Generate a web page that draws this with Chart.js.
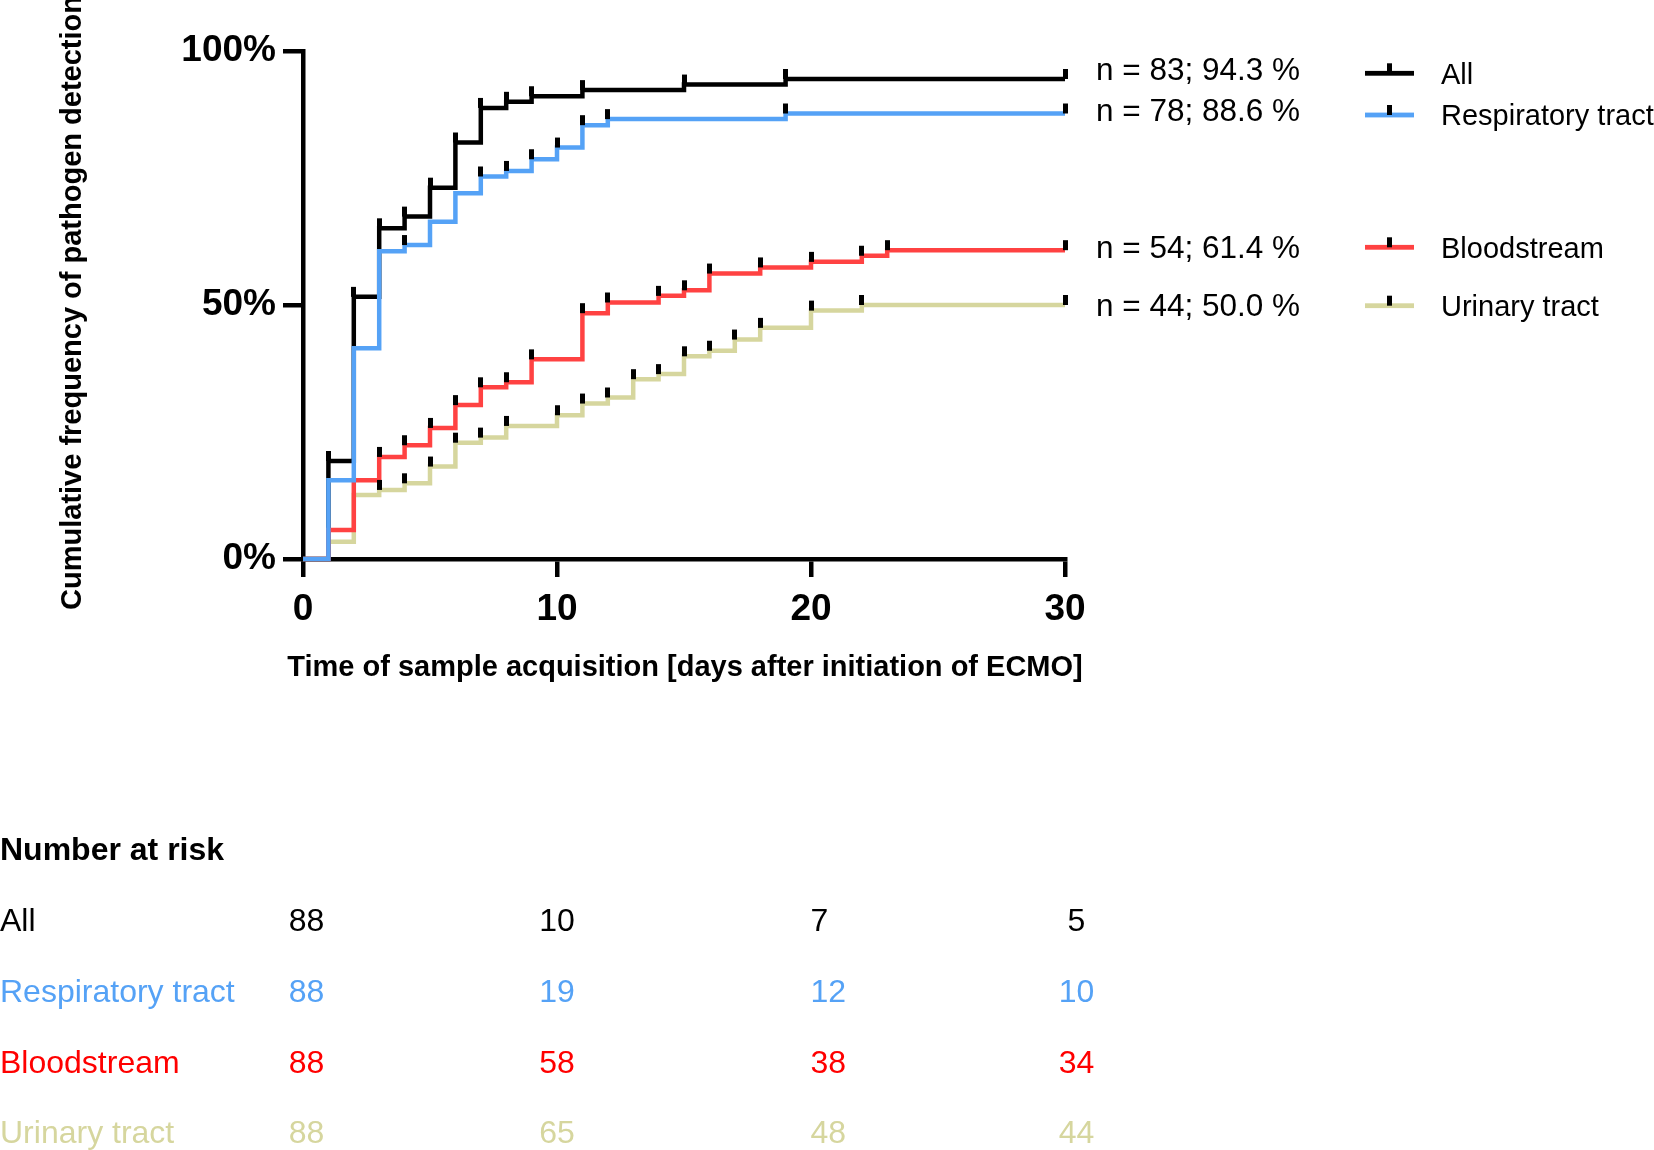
<!DOCTYPE html>
<html>
<head>
<meta charset="utf-8">
<script src="https://cdn.jsdelivr.net/npm/chart.js@4.4.1/dist/chart.umd.min.js"></script>
<style>
html,body{margin:0;padding:0;background:#fff;overflow:hidden}
#wrap{position:relative;width:1654px;height:1150px}
</style>
</head>
<body>
<div id="wrap"><canvas id="c" width="1654" height="1150"></canvas></div>
<script>
// ---------------- data ----------------
const seriesNames = ['All', 'Respiratory tract', 'Bloodstream', 'Urinary tract'];

const allDays      = [0, 1, 2, 3, 4, 5, 6, 7, 8, 9, 11, 15, 19, 30];
const allValues    = [0, 19.3, 51.6, 65.1, 67.4, 73.1, 82.0, 88.8, 90.0, 91.1, 92.3, 93.4, 94.5, 94.5];
const allCensored  = [1, 2, 3, 4, 5, 6, 7, 8, 9, 11, 15, 19, 30];

const respDays     = [0, 1, 2, 3, 4, 5, 6, 7, 8, 9, 10, 11, 12, 19, 30];
const respValues   = [0, 15.5, 41.5, 60.6, 61.8, 66.4, 72.0, 75.3, 76.4, 78.7, 81.0, 85.4, 86.6, 87.7, 87.7];
const respCensored = [4, 7, 8, 9, 10, 11, 12, 19, 30];

const bloodDays     = [0, 1, 2, 3, 4, 5, 6, 7, 8, 9, 11, 12, 14, 15, 16, 18, 20, 22, 23, 30];
const bloodValues   = [0, 5.7, 15.5, 20.1, 22.4, 25.8, 30.3, 33.8, 34.8, 39.3, 48.4, 50.5, 51.8, 52.9, 56.2, 57.4, 58.5, 59.7, 60.8, 60.8];
const bloodCensored = [3, 4, 5, 6, 7, 8, 9, 11, 12, 14, 15, 16, 18, 20, 22, 23, 30];

const urinDays     = [0, 1, 2, 3, 4, 5, 6, 7, 8, 10, 11, 12, 13, 14, 15, 16, 17, 18, 20, 22, 30];
const urinValues   = [0, 3.4, 12.6, 13.6, 14.9, 18.2, 22.9, 23.9, 26.2, 28.3, 30.6, 31.8, 35.4, 36.4, 39.9, 41.0, 43.2, 45.5, 48.9, 50.0, 50.0];
const urinCensored = [3, 4, 5, 6, 7, 8, 10, 11, 12, 13, 14, 15, 16, 17, 18, 20, 22, 30];

const endLabels = ['n = 83; 94.3 %', 'n = 78; 88.6 %', 'n = 54; 61.4 %', 'n = 44; 50.0 %'];

const xTickValues = [0, 10, 20, 30];
const yTickValues = [0, 50, 100];

const riskDays  = [0, 10, 20, 30];
const riskAll   = [88, 10, 7, 5];
const riskResp  = [88, 19, 12, 10];
const riskBlood = [88, 58, 38, 34];
const riskUrin  = [88, 65, 48, 44];

const xTitle = 'Time of sample acquisition [days after initiation of ECMO]';
const yTitle = 'Cumulative frequency of pathogen detection';
const riskTitle = 'Number at risk';

// ---------------- styles ----------------
const FONT = '"Liberation Sans", Arial, Helvetica, sans-serif';
const lineColors = ['#000000', '#55A2F6', '#FF4242', '#D6D69E'];
const textColors = ['#000000', '#55A2F6', '#FF0000', '#D6D69E'];
const drawOrder  = [3, 1, 2, 4];

function lookup(days, vals, d) {
  let v = vals[0];
  for (let i = 0; i < days.length; i++) if (days[i] <= d) v = vals[i];
  return v;
}
function toPts(days, vals) { return days.map((d, i) => ({x: d, y: vals[i]})); }

function makeTick() {
  const c = document.createElement('canvas');
  c.width = 5; c.height = 22;
  const g = c.getContext('2d');
  g.fillStyle = '#000';
  g.fillRect(0, 1, 5, 10);
  return c;
}
const tickImg = makeTick();

const series = [
  [allDays, allValues, allCensored, riskAll],
  [respDays, respValues, respCensored, riskResp],
  [bloodDays, bloodValues, bloodCensored, riskBlood],
  [urinDays, urinValues, urinCensored, riskUrin]
];

const datasets = [];
series.forEach((s, i) => {
  datasets.push({
    label: seriesNames[i],
    data: toPts(s[0], s[1]),
    borderColor: lineColors[i],
    backgroundColor: lineColors[i],
    borderWidth: 4.5,
    stepped: true,
    pointRadius: 0,
    fill: false,
    clip: false,
    order: drawOrder[i],
    borderCapStyle: 'butt',
    borderJoinStyle: 'miter'
  });
});
series.forEach((s, i) => {
  datasets.push({
    label: seriesNames[i] + ' censored',
    data: s[2].map(d => ({x: d, y: lookup(s[0], s[1], d)})),
    showLine: false,
    pointStyle: tickImg,
    pointRadius: 3,
    pointHoverRadius: 3,
    clip: false,
    order: 0
  });
});

// ---------------- extra drawing ----------------
const extras = {
  id: 'extras',
  afterDraw(chart) {
    const ctx = chart.ctx;
    const xs = chart.scales.x;
    ctx.save();
    ctx.fillStyle = '#000';

    // axis titles
    ctx.font = 'bold 29px ' + FONT;
    ctx.textAlign = 'center';
    ctx.textBaseline = 'middle';
    ctx.fillText(xTitle, 685, 668);
    ctx.save();
    ctx.translate(73, 303);
    ctx.rotate(-Math.PI / 2);
    ctx.fillText(yTitle, 0, 0);
    ctx.restore();

    // end labels
    const nBase = [79.7, 120.8, 257.9, 315.9];
    ctx.font = '31.5px ' + FONT;
    ctx.textAlign = 'left';
    ctx.textBaseline = 'alphabetic';
    endLabels.forEach((t, i) => ctx.fillText(t, 1096, nBase[i]));

    // legend
    const legY = [73.3, 115, 247.3, 305.7];
    seriesNames.forEach((name, i) => {
      ctx.fillStyle = lineColors[i];
      ctx.fillRect(1365, legY[i] - 2.4, 49, 4.8);
      ctx.fillStyle = '#000';
      ctx.fillRect(1387, legY[i] - 10, 5, 10);
      ctx.font = '29px ' + FONT;
      ctx.fillText(name, 1441, legY[i] + 10.4);
    });

    // number at risk table
    ctx.font = 'bold 32px ' + FONT;
    ctx.fillStyle = '#000';
    ctx.textAlign = 'left';
    ctx.fillText(riskTitle, 0, 859.5);
    const rowBase = [930.5, 1002, 1072.5, 1143.3];
    const colAlign = ['center', 'center', 'left', 'center'];
    const colShift = [3.5, 0, -0.5, 11.5];
    ctx.font = '32px ' + FONT;
    series.forEach((s, i) => {
      ctx.fillStyle = textColors[i];
      ctx.textAlign = 'left';
      ctx.fillText(seriesNames[i], 0, rowBase[i]);
      s[3].forEach((n, j) => {
        ctx.textAlign = colAlign[j];
        ctx.fillText(String(n), xs.getPixelForValue(riskDays[j]) + colShift[j], rowBase[i]);
      });
    });
    ctx.restore();
  }
};

new Chart(document.getElementById('c'), {
  type: 'line',
  data: {datasets},
  plugins: [extras],
  options: {
    responsive: false,
    animation: false,
    devicePixelRatio: 1,
    layout: {padding: {left: 0, right: 589, top: 51, bottom: 461}},
    plugins: {legend: {display: false}, tooltip: {enabled: false}},
    events: [],
    scales: {
      x: {
        type: 'linear',
        min: 0, max: 30,
        border: {display: true, color: '#000', width: 4.5},
        grid: {display: true, drawOnChartArea: false, drawTicks: true, tickLength: 18, tickWidth: 4.5, tickColor: '#000', color: '#000', lineWidth: 4.5},
        ticks: {color: '#000', padding: 11, maxRotation: 0, autoSkip: false, font: {family: FONT, size: 37, weight: 'bold'}},
        afterBuildTicks: s => { s.ticks = xTickValues.map(v => ({value: v})); },
        afterFit: s => { s.height = 130; }
      },
      y: {
        type: 'linear',
        min: 0, max: 100,
        border: {display: true, color: '#000', width: 4.5},
        grid: {display: true, drawOnChartArea: false, drawTicks: true, tickLength: 20, tickWidth: 4.5, tickColor: '#000', color: '#000', lineWidth: 4.5},
        ticks: {color: '#000', padding: 7, font: {family: FONT, size: 37, weight: 'bold'}, callback: v => v + '%'},
        afterBuildTicks: s => { s.ticks = yTickValues.map(v => ({value: v})); },
        afterFit: s => { s.width = 303; }
      }
    }
  }
});
</script>
</body>
</html>
